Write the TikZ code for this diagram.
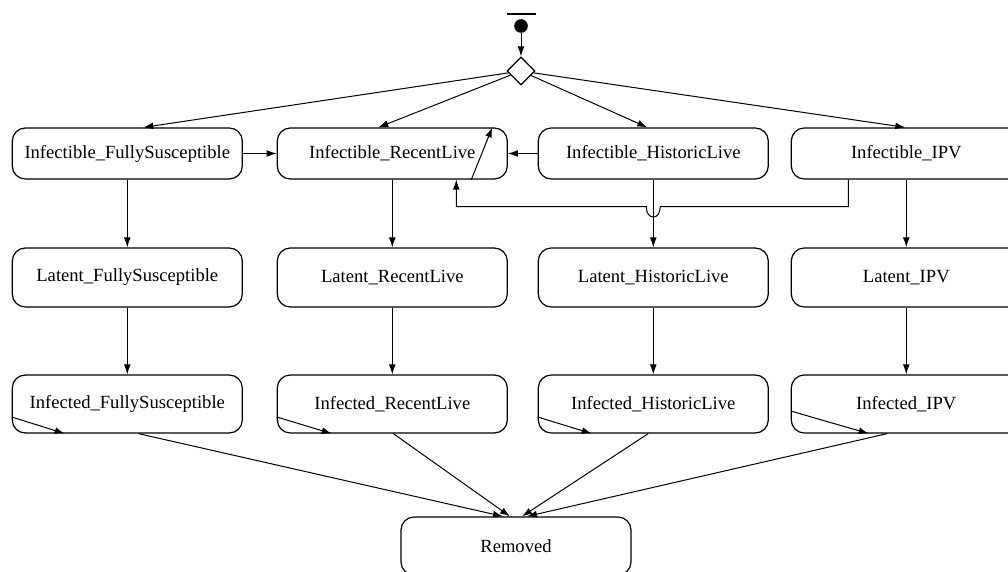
\documentclass[tikz,border=0pt]{standalone}
\usepackage{fontspec}
\setmainfont{Liberation Serif}
\usetikzlibrary{arrows.meta,shapes.geometric,calc}

\begin{document}
\begin{tikzpicture}[x=0.5pt, y=-0.5pt,
  state/.style={draw, rounded corners=6.5pt, minimum width=115pt, minimum height=#1, inner sep=0pt, line width=0.6pt, font=\fontsize{9.3}{11}\selectfont},
  tr/.style={-{Latex[length=5pt,width=3.4pt]}, line width=0.5pt},
]
\useasboundingbox (0,0) rectangle (1008,572);
\clip (0,0) rectangle (1008,572);

\node[fill, minimum width=14.5pt, minimum height=1pt, inner sep=0pt] (bar) at (521,14) {};
\node[circle, fill, minimum size=6.8pt, inner sep=0pt] (init) at (521,26) {};
\node[diamond, draw, line width=0.6pt, minimum width=14pt, minimum height=14pt, inner sep=0pt] (choice) at (521,71) {};
\node[state=29pt] (removed) at (516,546) {Removed};

\foreach \s/\x in {FullySusceptible/127.3, RecentLive/392.3, HistoricLive/653.3, IPV/906.3} {
  \node[state=25.5pt] (inf-\s) at (\x,153.5) {Infectible\_\s};
  \node[state=29.5pt] (lat-\s) at (\x,277.5) {Latent\_\s};
  \node[state=29pt] (infd-\s) at (\x,404) {Infected\_\s};
  \draw[tr] (inf-\s) -- (lat-\s);
  \draw[tr] (lat-\s) -- (infd-\s);
}

\draw[tr] (init) -- (choice);
\draw[tr] (choice) -- ($(inf-FullySusceptible.north)+(16,0)$);
\draw[tr] (choice) -- ($(inf-RecentLive.north)+(-14,0)$);
\draw[tr] (choice) -- ($(inf-HistoricLive.north)+(-6,0)$);
\draw[tr] (choice) -- ($(inf-IPV.north)+(-1,0)$);

\draw[tr] (inf-FullySusceptible) -- (inf-RecentLive);
\draw[tr] (inf-HistoricLive) -- (inf-RecentLive);
\draw[tr] ($(inf-RecentLive.south)+(79,0)$) -- ($(inf-RecentLive.north)+(100,0)$);
\draw[tr] ($(inf-IPV.south)+(-58,0)$) |- ($(inf-HistoricLive.south)+(7,27)$)
  .. controls +(0,14) and +(0,14) .. ($(inf-HistoricLive.south)+(-7,27)$)
  -| ($(inf-RecentLive.south)+(64,0)$);

\foreach \s/\dy/\dx in {FullySusceptible/13/53, RecentLive/13/55, HistoricLive/13/54, IPV/7/78} {
  \draw[tr] ($(infd-\s.west)+(0,\dy)$) -- ($(infd-\s.south west)+(\dx,0)$);
}

\draw[tr] ($(infd-FullySusceptible.south)+(11,0)$) -- ($(removed.north)+(-13,0)$);
\draw[tr] ($(infd-RecentLive.south)+(1,0)$) -- ($(removed.north)+(-6,0)$);
\draw[tr] ($(infd-HistoricLive.south)+(-5,0)$) -- ($(removed.north)+(6,0)$);
\draw[tr] ($(infd-IPV.south)+(-19,0)$) -- ($(removed.north)+(11,0)$);
\end{tikzpicture}
\end{document}
